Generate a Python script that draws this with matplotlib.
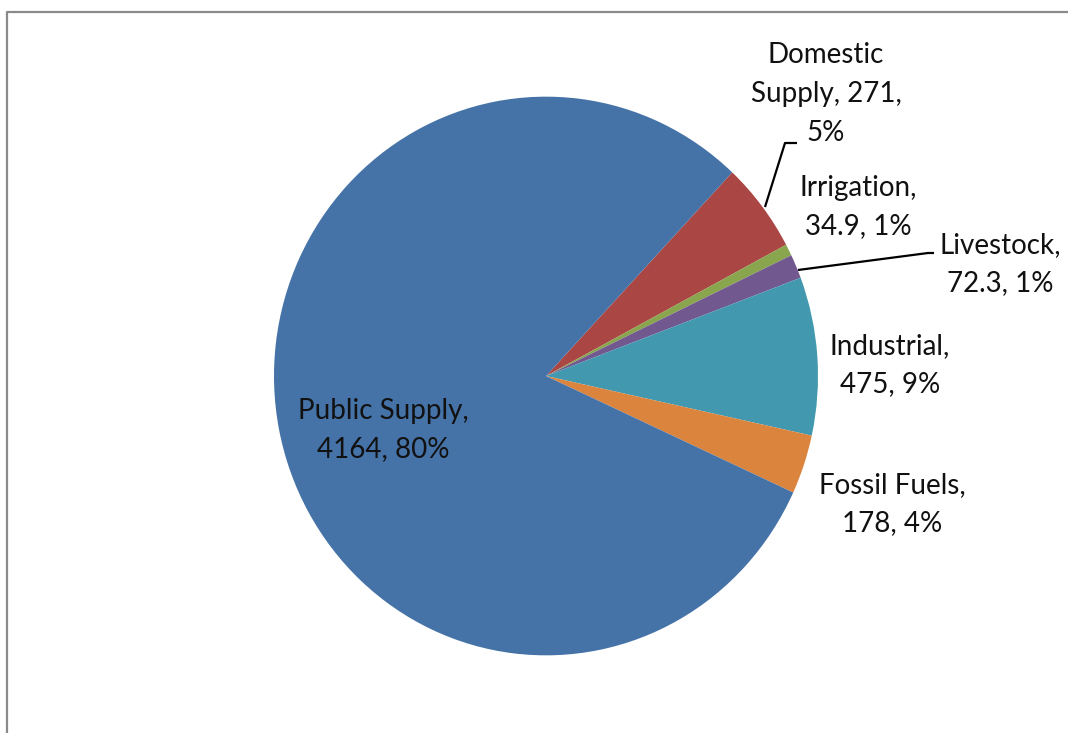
import matplotlib
matplotlib.use("Agg")
import matplotlib.pyplot as plt

# ---- data ----
categories = ["Domestic Supply", "Irrigation", "Livestock", "Industrial", "Fossil Fuels", "Public Supply"]
values = [271, 34.9, 72.3, 475, 178, 4164]
value_labels = ["271", "34.9", "72.3", "475", "178", "4164"]
pct_labels = ["5%", "1%", "1%", "9%", "4%", "80%"]
colors = ["#AA4643", "#89A54E", "#71588F", "#4198AF", "#DB843D", "#4572A7"]

W, H = 1068, 733
SY = 1.027  # slight vertical stretch of the original
fig = plt.figure(figsize=(W / 100, H / 100), dpi=100)
ax = fig.add_axes([0, 0, 1, 1])


def P(x, y):
    return x, (H - y) / SY


cx, cy = P(546, 376)
ax.pie(values, colors=colors, startangle=46.8, counterclock=False,
       center=(cx, cy), radius=272, frame=True,
       wedgeprops=dict(linewidth=0))
ax.set_xlim(0, W)
ax.set_ylim(0, H / SY)
ax.set_aspect("auto")
ax.axis("off")

label_pos = {
    "Domestic Supply": (826, 94),
    "Irrigation": (858, 207),
    "Livestock": (1000, 264),
    "Industrial": (890, 365),
    "Fossil Fuels": (892, 504),
    "Public Supply": (383, 430),
}
font = dict(family=["Lato", "DejaVu Sans"], fontsize=20, color="#111111")
for cat, vl, pl in zip(categories, value_labels, pct_labels):
    if cat == "Domestic Supply":
        txt = f"Domestic\nSupply, {vl},\n{pl}"
    else:
        txt = f"{cat},\n{vl}, {pl}"
    x, y = P(*label_pos[cat])
    ax.text(x, y, txt, ha="center", va="center", multialignment="center",
            linespacing=1.6, **font)

# leader lines
lx, ly = zip(P(765, 207), P(785, 143), P(797, 143))
ax.plot(lx, ly, color="black", lw=1.6, solid_capstyle="butt")
lx, ly = zip(P(798, 270), P(928, 253), P(934, 253))
ax.plot(lx, ly, color="black", lw=1.6, solid_capstyle="butt")

# outer chart frame (partially visible)
ax.plot(*zip(P(7, 740), P(7, 11.5), P(W + 5, 11.5)), color="#8a8a8a", lw=1.6)

fig.savefig("out.png", dpi=100, facecolor="white")
